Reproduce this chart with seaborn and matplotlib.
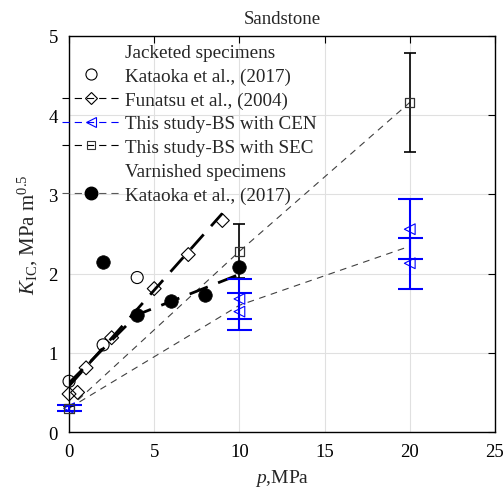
import numpy as np
import pandas as pd
import matplotlib
matplotlib.use("Agg")
import matplotlib.pyplot as plt
from matplotlib.lines import Line2D
import seaborn as sns

# ---------------- data ----------------
kat_jack_p = [0, 2, 4]
kat_jack_k = [0.64, 1.10, 1.95]

fun_p = [0, 0.5, 1, 2.5, 5, 7, 9]
fun_k = [0.48, 0.50, 0.81, 1.19, 1.81, 2.24, 2.67]
fun_line_p = [0, 9]
fun_line_k = [0.58, 2.76]

cen_p = [0, 10, 10, 20, 20]
cen_k = [0.30, 1.68, 1.52, 2.56, 2.13]
cen_err = [0.04, 0.25, 0.23, 0.38, 0.32]

sec_p = [0, 10, 20]
sec_k = [0.30, 2.28, 4.16]
sec_err = [0.03, 0.34, 0.62]

varn_p = [2, 4, 6, 8, 10]
varn_k = [2.14, 1.48, 1.65, 1.73, 2.08]
varn_line_p = [0, 4, 10]
varn_line_k = [0.62, 1.48, 1.99]

x_ticks = [0, 5, 10, 15, 20, 25]
y_ticks = [0, 1, 2, 3, 4, 5]

# ---------------- style ----------------
sns.set_style("white")
plt.rcParams['font.family'] = ['Liberation Serif', 'DejaVu Serif']
plt.rcParams['mathtext.fontset'] = 'custom'
plt.rcParams['mathtext.rm'] = 'Liberation Serif'
plt.rcParams['mathtext.it'] = 'Liberation Serif:italic'

FS = 13.5
fig = plt.figure(figsize=(5.04, 4.89), dpi=100)
ax = fig.add_axes([0.137, 0.1145, 0.845, 0.81])

thin = (0, (6, 5))
thick = (0, (7, 4))

# connecting / fit lines
sns.lineplot(x=sec_p, y=sec_k, ax=ax, color='0.25', lw=0.8, linestyle=thin,
             errorbar=None, legend=False)
sns.lineplot(x=cen_p, y=cen_k, ax=ax, color='0.25', lw=0.8, linestyle=thin,
             errorbar=None, legend=False)
sns.lineplot(x=fun_line_p, y=fun_line_k, ax=ax, color='k', lw=2.0, linestyle=thick,
             errorbar=None, legend=False)
sns.lineplot(x=varn_line_p, y=varn_line_k, ax=ax, color='k', lw=2.0, linestyle=thick,
             errorbar=None, legend=False, sort=False, estimator=None)

# error bars
eb1 = ax.errorbar(sec_p, sec_k, yerr=sec_err, fmt='none', ecolor='k', elinewidth=1.2,
                  capsize=4, capthick=1.2, zorder=3)
eb2 = ax.errorbar(cen_p, cen_k, yerr=cen_err, fmt='none', ecolor='#0000ff', elinewidth=1.5,
                  capsize=9, capthick=1.5, zorder=3)
for eb in (eb1, eb2):
    for art in eb.lines[1] + eb.lines[2]:
        art.set_clip_on(False)

# markers
sns.scatterplot(x=kat_jack_p, y=kat_jack_k, ax=ax, marker='o', s=75,
                facecolor='none', edgecolor='k', linewidth=0.8, zorder=4, clip_on=False)
sns.scatterplot(x=fun_p, y=fun_k, ax=ax, marker='D', s=50,
                facecolor='none', edgecolor='k', linewidth=0.8, zorder=4, clip_on=False)
sns.scatterplot(x=cen_p, y=cen_k, ax=ax, marker='<', s=60,
                facecolor='none', edgecolor='#0000ff', linewidth=0.8, zorder=5, clip_on=False)
sns.scatterplot(x=sec_p, y=sec_k, ax=ax, marker='s', s=45,
                facecolor='none', edgecolor='0.2', linewidth=0.9, zorder=5, clip_on=False)
sns.scatterplot(x=varn_p, y=varn_k, ax=ax, marker='o', s=95,
                color='k', edgecolor='k', linewidth=0.5, zorder=4, clip_on=False)

# axes
ax.set_xlim(0, 25)
ax.set_ylim(0, 5)
ax.set_xticks(x_ticks)
ax.set_yticks(y_ticks)
ax.grid(True, color='0.88', lw=0.8)
ax.set_axisbelow(True)
ax.tick_params(direction='in', top=True, right=True, length=5, width=0.8,
               labelsize=FS, colors='k', pad=8)
for s in ax.spines.values():
    s.set_color('k')
    s.set_linewidth(1.0)

ax.set_title('Sandstone', fontsize=FS, pad=9)
ax.set_xlabel(r'$p$,MPa', fontsize=FS + 0.5, labelpad=5)
ax.set_ylabel(r'$K_{\rm IC}$, MPa m$^{0.5}$', fontsize=FS + 1.5, labelpad=6)

# legend
blank = Line2D([], [], linestyle='none', marker=None)
ls_leg = (0, (6.5, 4.5))
handles = [
    blank,
    Line2D([], [], linestyle='none', marker='o', markerfacecolor='none',
           markeredgecolor='k', markersize=8, markeredgewidth=0.8),
    Line2D([], [], color='k', lw=0.8, linestyle=ls_leg, marker='D',
           markerfacecolor='none', markeredgecolor='k', markersize=6.5, markeredgewidth=0.8),
    Line2D([], [], color='#0000ff', lw=0.8, linestyle=ls_leg, marker='<',
           markerfacecolor='none', markeredgecolor='#0000ff', markersize=7, markeredgewidth=0.8),
    Line2D([], [], color='k', lw=0.8, linestyle=ls_leg, marker='s',
           markerfacecolor='none', markeredgecolor='0.2', markersize=6, markeredgewidth=0.8),
    blank,
    Line2D([], [], color='0.35', lw=0.8, linestyle=ls_leg, marker='o',
           markerfacecolor='k', markeredgecolor='k', markersize=9),
]
labels = ['Jacketed specimens', 'Kataoka et al., (2017)', 'Funatsu et al., (2004)',
          'This study-BS with CEN', 'This study-BS with SEC', 'Varnished specimens',
          'Kataoka et al., (2017)']
ax.legend(handles, labels, loc='upper left', bbox_to_anchor=(-0.038, 1.005),
          frameon=False, fontsize=FS + 0.3, handlelength=3.0, handletextpad=0.25,
          labelspacing=0.33, borderaxespad=0.1)

fig.savefig('out.png', dpi=100)
